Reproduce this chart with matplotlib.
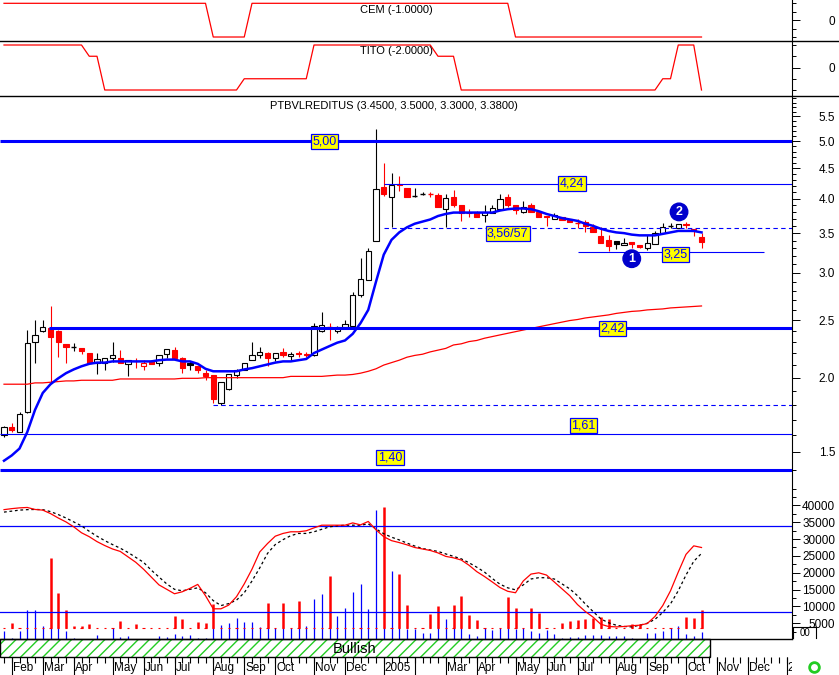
import numpy as np
import pandas as pd
import matplotlib
matplotlib.use('Agg')
import matplotlib.pyplot as plt
from matplotlib.patches import Rectangle
from matplotlib.lines import Line2D
from matplotlib.ticker import NullFormatter

plt.rcParams['font.family'] = ['Liberation Sans', 'DejaVu Sans']

# weekly bars (Friday), first visible bar = 30 Jan 2004
dates = pd.date_range('2004-01-30', periods=102, freq='W-FRI')

opens = [1.60, 1.65, 1.62, 1.75, 2.30, 2.40, 2.42, 2.40, 2.28, 2.25,
         2.245, 2.20, 2.12, 2.12, 2.155, 2.16, 2.11, 2.135, 2.095, 2.13,
         2.12, 2.195, 2.23, 2.16, 2.12, 2.09, 2.04, 2.02, 1.81, 1.915,
         2.02, 2.06, 2.145, 2.18, 2.20, 2.155, 2.21, 2.175, 2.20, 2.19,
         2.18, 2.40, 2.43, 2.40, 2.43, 2.445, 2.75, 2.92, 3.39, 4.18,
         4.02, 4.24, 4.17, 4.04, 4.08, 4.07, 4.06, 3.85, 4.02, 3.90,
         3.79, 3.80, 3.75, 3.79, 3.85, 4.03, 3.90, 3.80, 3.90, 3.80,
         3.74, 3.70, 3.73, 3.69, 3.64, 3.65, 3.59, 3.46, 3.41, 3.40,
         3.34, 3.38, 3.34, 3.31, 3.36, 3.50, 3.60, 3.57, 3.63, 3.55,
         3.45]
highs = [1.66, 1.68, 1.75, 2.41, 2.50, 2.50, 2.64, 2.41, 2.28, 2.29,
         2.245, 2.20, 2.20, 2.155, 2.30, 2.23, 2.145, 2.16, 2.14, 2.14,
         2.18, 2.235, 2.25, 2.17, 2.13, 2.09, 2.06, 2.02, 1.97, 2.03,
         2.07, 2.12, 2.30, 2.255, 2.21, 2.20, 2.245, 2.21, 2.215, 2.21,
         2.47, 2.58, 2.47, 2.445, 2.50, 2.79, 3.18, 3.30, 5.24, 4.59,
         4.41, 4.37, 4.17, 4.17, 4.10, 4.11, 4.09, 4.08, 4.14, 3.90,
         3.85, 3.82, 3.90, 3.90, 4.08, 4.08, 3.90, 3.97, 3.94, 3.80,
         3.74, 3.79, 3.73, 3.70, 3.69, 3.68, 3.63, 3.58, 3.47, 3.40,
         3.44, 3.38, 3.34, 3.47, 3.53, 3.64, 3.64, 3.63, 3.65, 3.55,
         3.50]
lows = [1.59, 1.62, 1.62, 1.745, 2.12, 2.39, 1.97, 2.17, 2.12, 2.22,
        2.19, 2.12, 2.03, 2.06, 2.125, 2.115, 2.01, 2.08, 2.06, 2.11,
        2.09, 2.155, 2.155, 2.04, 2.06, 2.04, 1.98, 1.81, 1.80, 1.91,
        2.00, 2.06, 2.145, 2.16, 2.095, 2.13, 2.165, 2.145, 2.165, 2.165,
        2.175, 2.385, 2.31, 2.38, 2.43, 2.445, 2.73, 2.92, 3.39, 4.04,
        3.58, 4.12, 4.03, 4.02, 4.06, 4.03, 3.88, 3.58, 3.88, 3.67,
        3.73, 3.72, 3.65, 3.79, 3.85, 3.87, 3.77, 3.79, 3.80, 3.73,
        3.60, 3.70, 3.68, 3.66, 3.57, 3.52, 3.51, 3.37, 3.27, 3.29,
        3.34, 3.30, 3.31, 3.28, 3.36, 3.50, 3.57, 3.57, 3.57, 3.46,
        3.30]
closes = [1.65, 1.635, 1.74, 2.285, 2.36, 2.43, 2.34, 2.30, 2.25, 2.25,
          2.22, 2.12, 2.15, 2.155, 2.18, 2.12, 2.14, 2.13, 2.12, 2.11,
          2.18, 2.235, 2.155, 2.08, 2.10, 2.06, 2.015, 1.84, 1.97, 2.025,
          2.06, 2.12, 2.18, 2.205, 2.155, 2.20, 2.18, 2.195, 2.19, 2.185,
          2.445, 2.45, 2.43, 2.43, 2.46, 2.75, 2.935, 3.27, 4.15, 4.08,
          4.22, 4.21, 4.03, 4.04, 4.08, 4.07, 3.88, 4.005, 3.90, 3.79,
          3.785, 3.72, 3.80, 3.86, 4.00, 3.90, 3.83, 3.88, 3.80, 3.73,
          3.72, 3.76, 3.68, 3.66, 3.64, 3.60, 3.51, 3.37, 3.33, 3.36,
          3.37, 3.36, 3.32, 3.37, 3.50, 3.59, 3.60, 3.62, 3.61, 3.53,
          3.38]

ma_fast = [1.45, 1.48, 1.52, 1.62, 1.765, 1.885, 1.95, 1.995, 2.035, 2.065,
           2.09, 2.11, 2.12, 2.12, 2.13, 2.13, 2.13, 2.13, 2.13, 2.13,
           2.14, 2.145, 2.145, 2.13, 2.13, 2.11, 2.07, 2.05, 2.05, 2.05,
           2.05, 2.065, 2.075, 2.09, 2.105, 2.12, 2.13, 2.13, 2.14, 2.15,
           2.20, 2.23, 2.26, 2.29, 2.31, 2.37, 2.47, 2.60, 2.90, 3.22,
           3.41, 3.51, 3.58, 3.63, 3.66, 3.69, 3.74, 3.77, 3.79, 3.79,
           3.79, 3.79, 3.79, 3.79, 3.82, 3.84, 3.85, 3.85, 3.84, 3.81,
           3.77, 3.74, 3.71, 3.69, 3.67, 3.63, 3.60, 3.56, 3.53, 3.51,
           3.50, 3.48, 3.47, 3.47, 3.47, 3.49, 3.51, 3.53, 3.53, 3.53,
           3.51]
ma_slow = [1.95, 1.95, 1.95, 1.95, 1.96, 1.96, 1.965, 1.97, 1.975, 1.975,
           1.98, 1.98, 1.98, 1.98, 1.98, 1.99, 1.99, 1.99, 1.99, 1.99,
           1.99, 1.99, 1.99, 1.995, 1.995, 1.995, 2.00, 2.00, 2.00, 2.00,
           2.00, 2.00, 2.00, 2.00, 2.00, 2.00, 2.00, 2.01, 2.01, 2.01,
           2.01, 2.01, 2.015, 2.02, 2.02, 2.025, 2.035, 2.05, 2.07, 2.10,
           2.12, 2.14, 2.165, 2.18, 2.19, 2.21, 2.225, 2.24, 2.27, 2.28,
           2.30, 2.31, 2.33, 2.345, 2.36, 2.375, 2.39, 2.405, 2.42, 2.435,
           2.45, 2.465, 2.48, 2.495, 2.505, 2.52, 2.53, 2.54, 2.55, 2.565,
           2.575, 2.585, 2.59, 2.60, 2.605, 2.61, 2.62, 2.625, 2.63, 2.635,
           2.64]

cem = [1, 1, 1, 1, 1, 1, 1, 1, 1, 1, 1, 1, 1, 1, 1, 1, 1, 1, 1, 1,
       1, 1, 1, 1, 1, 1, 1, -1, -1, -1, -1, -1, 1, 1, 1, 1, 1, 1, 1, 1,
       1, 1, 1, 1, 1, 1, 1, 1, 1, 1, 1, 1, 1, 1, 1, 1, 1, 1, 1, 1,
       1, 1, 1, 1, 1, 1, -1, -1, -1, -1, -1, -1, -1, -1, -1, -1, -1, -1, -1, -1,
       -1, -1, -1, -1, -1, -1, -1, -1, -1, -1, -1]
tito = [2, 2, 2, 2, 2, 2, 2, 2, 2, 2, 2, 1, 1, -2, -2, -2, -2, -2, -2, -2,
        -2, -2, -2, -2, -2, -2, -2, -2, -2, -2, -2, -1, -1, -1, -1, -1, -1, -1, -1, -1,
        2, 2, 2, 2, 2, 2, 2, 2, 2, 2, 2, 2, 2, 2, 2, 2, 1, 1, 1, -2,
        -2, -2, -2, -2, -2, -2, -2, -2, -2, -2, -2, -2, -2, -2, -2, -2, -2, -2, -2, -2,
        -2, -2, -2, -2, -2, -1, -1, 2, 2, 2, -2]

vol_blue = [2720, 580, 2720, 8770, 8770, 4180, 3710, 3710, 2720, 580,
            0, 0, 1550, 0, 3710, 960, 1260, 0, 0, 0,
            1260, 960, 1750, 1170, 1550, 670, 580, 3710, 4390, 5060,
            6520, 5350, 5350, 3890, 3710, 3420, 3710, 3420, 3710, 4090,
            12080, 13740, 3710, 7110, 9360, 14330, 16750, 9150, 38680, 3710,
            20470, 3710, 3130, 3130, 1960, 2130, 3420, 6350, 3420, 3710,
            1750, 1260, 3710, 2920, 3710, 3710, 3130, 3710, 2720, 2130,
            2920, 1750, 580, 960, 960, 1460, 1460, 1460, 1260, 1260,
            1260, 580, 0, 2130, 2130, 2720, 3710, 4090, 1750, 1260,
            2430]
vol_red = [0, 5060, 0, 0, 0, 0, 24360, 13950, 8770, 4090,
           4180, 4680, 0, 0, 0, 5560, 0, 4680, 0, 0,
           0, 0, 7110, 6140, 0, 5260, 4970, 10730, 0, 0,
           0, 0, 0, 0, 10910, 0, 10910, 0, 11700, 0,
           0, 0, 19010, 0, 0, 0, 0, 0, 0, 39470,
           0, 19500, 10530, 0, 0, 7810, 10230, 0, 10530, 13160,
           7310, 6050, 0, 0, 0, 12870, 9560, 0, 9560, 7980,
           0, 0, 5060, 5560, 5850, 6350, 6640, 6810, 6350, 0,
           0, 4880, 4880, 0, 0, 0, 0, 0, 6810, 6430,
           8770]
osc_line = [38740, 39040, 39270, 39390, 38800, 38600, 37570, 36260, 35090, 33630,
            31870, 30700, 29240, 28070, 27050, 26320, 24710, 23100, 21050, 18710,
            16370, 15060, 13740, 14330, 15350, 16520, 13160, 9270, 9270, 10380,
            12870, 16670, 21050, 26170, 28660, 30850, 31670, 32160, 32160, 32460,
            33330, 34120, 34120, 34120, 34120, 34800, 34210, 35230, 32750, 30700,
            29530, 28950, 28280, 27490, 27050, 26610, 25880, 24850, 24420, 23770,
            22220, 20320, 18860, 17250, 15590, 14470, 14040, 17540, 19590, 19970,
            19300, 17250, 15200, 13160, 10530, 8480, 6810, 4680, 4010, 3890,
            4010, 4240, 4390, 4880, 7020, 10230, 14620, 20180, 25440, 27980,
            27490]
osc_signal = [38010, 38300, 38600, 38740, 38800, 38740, 38160, 37280, 36260, 35090,
              33920, 32310, 30850, 29530, 28360, 27280, 26020, 24560, 23100, 20760,
              18710, 16670, 15060, 14620, 15060, 15500, 14040, 11700, 10230, 10820,
              11840, 14040, 17540, 21430, 25730, 28360, 29820, 31000, 31670, 31670,
              32160, 32900, 33630, 33920, 34120, 34120, 34120, 34500, 33040, 31580,
              30560, 29740, 28800, 27920, 27190, 26750, 26320, 25580, 24850, 24120,
              22950, 21640, 20180, 18280, 16580, 15500, 14910, 16370, 18130, 18510,
              18510, 18130, 16670, 15200, 13160, 10730, 8480, 6290, 5120, 4390,
              4010, 3890, 4390, 4970, 6140, 8190, 10730, 14620, 19300, 23390,
              25730]

# price levels: (value, start bar, end bar, width, style)
levels = [(5.00, None, None, 2.2, '-'), (4.24, 49.0, None, 0.8, '-'),
          (3.565, 49.0, None, 0.8, (0, (4, 3))), (3.25, 74.1, 98.1, 0.8, '-'),
          (2.42, 5.85, None, 2.2, '-'), (1.80, 27.0, None, 0.8, (0, (4, 3))),
          (1.61, None, None, 0.8, '-'), (1.40, None, None, 2.2, '-')]
level_tags = [('5,00', 41.4, 5.00), ('4,24', 73.3, 4.24), ('3,56/57', 65.0, 3.50),
              ('3,25', 86.7, 3.22), ('2,42', 78.5, 2.42), ('1,61', 74.8, 1.665),
              ('1,40', 49.8, 1.466)]

BLUE = '#0000ff'
RED = '#ff0000'
W, H = 839, 675
XL = (-4 / 7.75, 788 / 7.75)
idx = np.arange(len(closes))


def box(x0, y0, x1, y1):
    return [x0 / W, 1 - y1 / H, (x1 - x0) / W, (y1 - y0) / H]


def style(ax):
    ax.set_xlim(XL)
    for s in ['left', 'top', 'bottom']:
        ax.spines[s].set_visible(False)
    ax.spines['right'].set_linewidth(0.8)
    ax.set_xticks([])
    ax.yaxis.tick_right()
    ax.tick_params(axis='y', which='major', length=5.5, width=0.7, pad=25.5, labelsize=8.5)
    ax.tick_params(axis='y', which='minor', length=2.8, width=0.7)


fig = plt.figure(figsize=(8.39, 6.75), dpi=100)
ax_cem = fig.add_axes(box(0, 0, 792, 41))
ax_tito = fig.add_axes(box(0, 41, 792, 96))
ax_p = fig.add_axes(box(0, 96, 792, 497))
ax_v = fig.add_axes(box(0, 497, 792, 639))
ax_b = fig.add_axes(box(0, 639, 792, 657))
ax_d = fig.add_axes(box(0, 657, 792, 675))

# CEM / TITO
for ax, vals, lim, minors, name, hpx in [
        (ax_cem, cem, (-1.237, 1.196), [-1, -0.5, 0.5, 1], 'CEM (-1.0000)', 41),
        (ax_tito, tito, (-2.533, 2.356), [-2, -1, 1, 2], 'TITO (-2.0000)', 55)]:
    style(ax)
    ax.plot(idx, vals, color=RED, lw=0.9)
    ax.set_ylim(lim)
    ax.set_yticks([0], labels=['0'], ha='right')
    ax.set_yticks(minors, minor=True)
    ax.text(360 / 792, 1 - 10 / hpx, name, transform=ax.transAxes,
            fontsize=8, va='center', ha='left')

# price panel
style(ax_p)
ax_p.set_yscale('log')
ax_p.set_ylim(1.26, 5.952)
ax_p.set_yticks([1.5, 2.0, 2.5, 3.0, 3.5, 4.0, 4.5, 5.0, 5.5],
                labels=['1.5', '2.0', '2.5', '3.0', '3.5', '4.0', '4.5', '5.0', '5.5'], ha='right')
ax_p.set_yticks([v / 10 for v in range(13, 60) if v % 5], minor=True)
ax_p.yaxis.set_minor_formatter(NullFormatter())

bw = 0.68
for i in idx:
    o, h, l, c = opens[i], highs[i], lows[i], closes[i]
    col = RED if (i > 0 and c < closes[i - 1]) else 'black'
    ax_p.vlines(i, l, h, color=col, lw=0.8, zorder=3)
    if o == c:
        ax_p.hlines(o, i - bw / 2, i + bw / 2, color=col, lw=1.0, zorder=4)
    else:
        fc = col if c < o else 'white'
        ax_p.add_patch(Rectangle((i - bw / 2, min(o, c)), bw, abs(c - o),
                                 facecolor=fc, edgecolor=col, lw=0.8, zorder=4))

ax_p.plot(idx, ma_slow, color=RED, lw=0.9, zorder=5)
ax_p.plot(idx, ma_fast, color=BLUE, lw=1.8, zorder=5)

for val, x0, x1, lw, ls in levels:
    x0 = XL[0] if x0 is None else x0
    x1 = XL[1] if x1 is None else x1
    ax_p.hlines(val, x0, x1, color=BLUE, lw=lw, linestyles=[ls], zorder=6)

for txt, x, y in level_tags:
    ax_p.text(x, y, txt, color=BLUE, fontsize=9, ha='center', va='center', zorder=7,
              bbox=dict(boxstyle='square,pad=0.12', fc='yellow', ec=BLUE, lw=0.9))

for txt, x, y in [('1', 81.0, 3.17), ('2', 87.1, 3.80)]:
    ax_p.text(x, y, txt, color='white', fontsize=9, fontweight='bold', ha='center',
              va='center', zorder=7,
              bbox=dict(boxstyle='circle,pad=0.22', fc='#0000cc', ec='#0000cc'))

ax_p.text(270 / 792, 1 - 10 / 401, 'PTBVLREDITUS (3.4500, 3.5000, 3.3000, 3.3800)',
          transform=ax_p.transAxes, fontsize=8, ha='left', va='center')

# volume / oscillator panel
style(ax_v)
ax_v.set_ylim(292, 41813)
vt = [5000, 10000, 15000, 20000, 25000, 30000, 35000, 40000]
ax_v.set_yticks(vt, labels=[str(v) for v in vt], ha='right')
ax_v.set_yticks([2500 + 5000 * k for k in range(9)], minor=True)
vb = np.array(vol_blue)
vr = np.array(vol_red)
ax_v.vlines(idx[vb > 0], 0, vb[vb > 0], color=BLUE, lw=0.9)
ax_v.hlines(np.full(len(idx), 3710), idx - 0.13, idx + 0.13, color=RED, lw=0.8)
ax_v.vlines(idx[vr > 0], 3710, vr[vr > 0], color=RED, lw=1.8)
ax_v.axhline(33800, color=BLUE, lw=0.9)
ax_v.axhline(8400, color=BLUE, lw=0.9)
ax_v.plot(idx, osc_signal, color='black', lw=0.9, dashes=(2.2, 2.2))
ax_v.plot(idx, osc_line, color=RED, lw=0.9)

# bullish band
ax_b.set_xlim(XL)
ax_b.set_ylim(0, 1)
ax_b.axis('off')
band_end = (710 - 4) / 7.75
ax_b.add_patch(Rectangle((XL[0], 0), band_end - XL[0], 1, facecolor='white',
                         edgecolor='#22cc22', hatch='///', lw=0))
ax_b.add_patch(Rectangle((XL[0], 0), band_end - XL[0], 1, facecolor='none',
                         edgecolor='black', lw=1.0, clip_on=False))
ax_b.plot([XL[0], XL[1]], [1, 1], color='black', lw=1.0, clip_on=False)
ax_b.text((355 - 4) / 7.75, 0.42, 'Bullish', fontsize=10.5, ha='center', va='center')

# date axis
ax_d.set_xlim(XL)
ax_d.set_ylim(0, 1)
ax_d.axis('off')
ax_d.vlines(np.arange(len(dates)), 0.67, 1, color='black', lw=0.8)
prev_year_label = False
for i in range(1, len(dates)):
    if dates[i].month != dates[i - 1].month:
        ax_d.vlines(i, 0, 1, color='black', lw=0.8)
        if dates[i].month == 1:
            lab = str(dates[i].year)
        else:
            lab = dates[i].strftime('%b')
        if not prev_year_label:
            ax_d.text(i + 0.15, 0.38, lab, fontsize=8.5, ha='left', va='center', clip_on=True)
        prev_year_label = dates[i].month == 1

# panel separators and small extras
for yy in [41, 96]:
    fig.add_artist(Line2D([0, 1], [1 - yy / H] * 2, color='black', lw=1.0,
                          transform=fig.transFigure))
fig.add_artist(Line2D([793 / W, 793 / W, 816 / W, 816 / W],
                      [1 - 638 / H, 1 - 627 / H, 1 - 627 / H, 1 - 638 / H],
                      color='black', lw=0.8, transform=fig.transFigure))
fig.text(804.5 / W, 1 - 633 / H, '00', fontsize=7, ha='center', va='center')
fig.add_artist(Line2D([814 / W], [1 - 667 / H], marker='o', markersize=7,
                      markerfacecolor='none', markeredgecolor='#22cc22',
                      markeredgewidth=2, transform=fig.transFigure))

fig.savefig('out.png', dpi=100)
